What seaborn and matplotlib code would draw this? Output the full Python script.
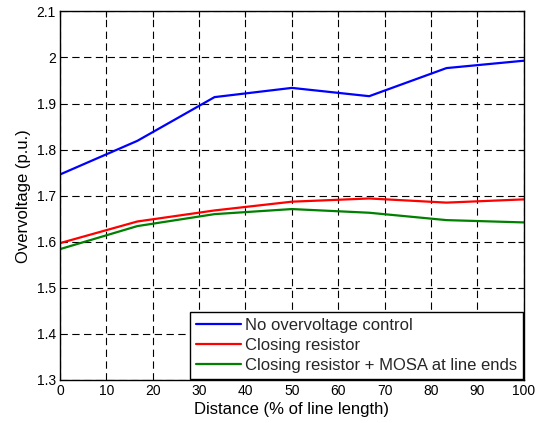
import matplotlib
matplotlib.use("Agg")
import matplotlib.pyplot as plt
import numpy as np
import pandas as pd
import seaborn as sns

# Measurement positions along the line (% of line length)
distance = [0, 16.67, 33.33, 50, 66.67, 83.33, 100]

# Peak overvoltage (p.u.) for each switching scheme
no_control = [1.746, 1.819, 1.914, 1.934, 1.916, 1.977, 1.993]
closing_resistor = [1.597, 1.644, 1.668, 1.687, 1.694, 1.685, 1.692]
resistor_mosa = [1.584, 1.634, 1.660, 1.671, 1.663, 1.647, 1.642]

series_names = [
    "No overvoltage control",
    "Closing resistor",
    "Closing resistor + MOSA at line ends",
]
series_values = [no_control, closing_resistor, resistor_mosa]
series_colors = ["#0000ff", "#ff0000", "#008000"]

x_ticks = [0, 10, 20, 30, 40, 50, 60, 70, 80, 90, 100]
y_ticks = [1.3, 1.4, 1.5, 1.6, 1.7, 1.8, 1.9, 2.0, 2.1]
y_tick_labels = ["1.3", "1.4", "1.5", "1.6", "1.7", "1.8", "1.9", "2", "2.1"]

frames = []
for name, vals in zip(series_names, series_values):
    frames.append(pd.DataFrame({"distance": distance, "overvoltage": vals, "case": name}))
df = pd.concat(frames, ignore_index=True)

sns.set_theme(style="white")
plt.rcParams["font.family"] = ["Liberation Sans", "DejaVu Sans"]

fig = plt.figure(figsize=(5.4, 4.23), dpi=100)
ax = fig.add_axes([0.111, 0.1017, 0.859, 0.8713])

sns.lineplot(
    data=df, x="distance", y="overvoltage", hue="case",
    hue_order=series_names, palette=series_colors,
    linewidth=1.6, ax=ax, legend=False, sort=False,
)

ax.set_xlim(0, 100)
ax.set_ylim(1.3, 2.1)
ax.set_xticks(x_ticks)
ax.set_xticklabels([str(t) for t in x_ticks])
ax.set_yticks(y_ticks)
ax.set_yticklabels(y_tick_labels)

ax.grid(True, color="black", linewidth=0.8, linestyle=(0, (6.6, 4)))
ax.tick_params(direction="in", length=4, width=0.8, colors="black",
               labelsize=10, top=True, right=True, pad=3)
for s in ax.spines.values():
    s.set_color("black")
    s.set_linewidth(1.0)

ax.set_xlabel("Distance (% of line length)", fontsize=12, color="black", labelpad=3)
ax.set_ylabel("Overvoltage (p.u.)", fontsize=12, color="black", labelpad=4)

handles = [plt.Line2D([], [], color=c, linewidth=1.6) for c in series_colors]
leg = ax.legend(
    handles, series_names, loc="lower right", fontsize=12,
    frameon=True, fancybox=False, framealpha=1, edgecolor="black",
    borderaxespad=0.05, handlelength=2.7, handletextpad=0.25,
    labelspacing=0.3, borderpad=0.35,
)
leg.get_frame().set_linewidth(1.0)

fig.savefig("out.png", dpi=100)
